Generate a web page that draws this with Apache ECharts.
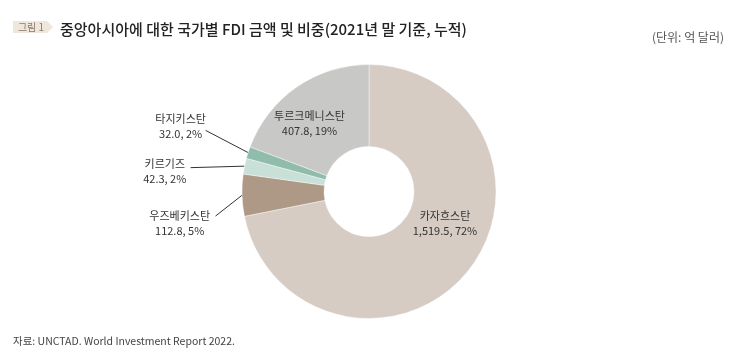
<!DOCTYPE html>
<html>
<head>
<meta charset="utf-8">
<script src="https://cdn.jsdelivr.net/npm/echarts@6/dist/echarts.min.js"></script>
<style>
html,body{margin:0;padding:0;background:#fff;}
#chart{width:742px;height:361px;}
</style>
</head>
<body>
<div id="chart"></div>
<script>
// ---- data ----
const countries = ['카자흐스탄', '우즈베키스탄', '키르기즈', '타지키스탄', '투르크메니스탄'];
const amounts = [1519.5, 112.8, 42.3, 32.0, 407.8];
const shares = [72, 5, 2, 2, 19];

// ---- styles ----
const colors = ['#d6ccc3', '#ae9987', '#c9e0d8', '#8fbcab', '#c8c9c7'];
const FONT = '"Noto Sans CJK KR", "Noto Sans", sans-serif';
const CX = 369, CY = 191.5, R_OUT = 127, R_IN = 45;
// label placement: inside -> offset from pie centre; outside -> offsets from slice edge anchor
const labelSpecs = [
  { inside: true, label: [76, 31.5] },
  { inside: false, lineEnd: [-26.5, 20.8], label: [-62.4, 27.8] },
  { inside: false, lineEnd: [-54, 1.5], label: [-79.8, 4.9] },
  { inside: false, lineEnd: [-42.5, -22.2], label: [-67.5, -26.5] },
  { inside: true, label: [-59.5, -68.5] }
];

const total = amounts.reduce((a, b) => a + b, 0);
const midAngles = [];
let cum = 0;
amounts.forEach(v => {
  midAngles.push((90 - (cum + v / 2) / total * 360) * Math.PI / 180);
  cum += v;
});

function fmtAmount(v) {
  return v.toLocaleString('en-US', { minimumFractionDigits: 1, maximumFractionDigits: 1 });
}

const seriesData = countries.map((name, i) => ({
  name: name,
  value: amounts[i],
  itemStyle: { color: colors[i] },
  label: {
    show: true,
    position: labelSpecs[i].inside ? 'inside' : 'outside',
    formatter: name + '\n' + fmtAmount(amounts[i]) + ', ' + shares[i] + '%'
  },
  labelLine: { show: !labelSpecs[i].inside }
}));

const chart = echarts.init(document.getElementById('chart'), null, { renderer: 'canvas' });
chart.setOption({
  backgroundColor: '#ffffff',
  animation: false,
  graphic: [
    {
      type: 'polygon',
      shape: { points: [[13, 21], [47, 21], [53, 27], [47, 33], [13, 33]] },
      style: { fill: '#efe6dc' }
    },
    {
      type: 'text',
      style: { x: 31, y: 27.5, text: '그림 1', font: '10px ' + FONT, fill: '#8c7a6b', align: 'center', verticalAlign: 'middle' }
    },
    {
      type: 'text',
      style: { x: 60, y: 29, text: '중앙아시아에 대한 국가별 FDI 금액 및 비중(2021년 말 기준, 누적)', font: '500 15px ' + FONT, fill: '#222222', verticalAlign: 'middle' }
    },
    {
      type: 'text',
      style: { x: 724, y: 37, text: '(단위: 억 달러)', font: '12px ' + FONT, fill: '#555555', align: 'right', verticalAlign: 'middle' }
    },
    {
      type: 'text',
      style: { x: 13, y: 341.5, text: '자료: UNCTAD. World Investment Report 2022.', font: '10.5px ' + FONT, fill: '#444444', verticalAlign: 'middle' }
    }
  ],
  series: [{
    type: 'pie',
    center: [CX, CY],
    radius: [R_IN, R_OUT],
    startAngle: 90,
    clockwise: true,
    avoidLabelOverlap: false,
    minShowLabelAngle: 0,
    itemStyle: { borderColor: '#ffffff', borderWidth: 0.4 },
    label: {
      fontFamily: FONT,
      fontSize: 11,
      color: '#333333',
      lineHeight: 15,
      align: 'center'
    },
    labelLine: {
      lineStyle: { color: '#333333', width: 1 }
    },
    emphasis: { disabled: true },
    labelLayout: function (params) {
      const i = params.dataIndex;
      const spec = labelSpecs[i];
      if (spec.inside) {
        return { x: CX + spec.label[0], y: CY + spec.label[1], align: 'center', verticalAlign: 'middle' };
      }
      const a = midAngles[i];
      const ax = CX + R_OUT * Math.cos(a);
      const ay = CY - R_OUT * Math.sin(a);
      return {
        x: ax + spec.label[0],
        y: ay + spec.label[1],
        align: 'center',
        verticalAlign: 'middle',
        labelLinePoints: [[ax, ay], [ax + spec.lineEnd[0], ay + spec.lineEnd[1]], [ax + spec.lineEnd[0], ay + spec.lineEnd[1]]]
      };
    },
    data: seriesData
  }]
});
</script>
</body>
</html>
